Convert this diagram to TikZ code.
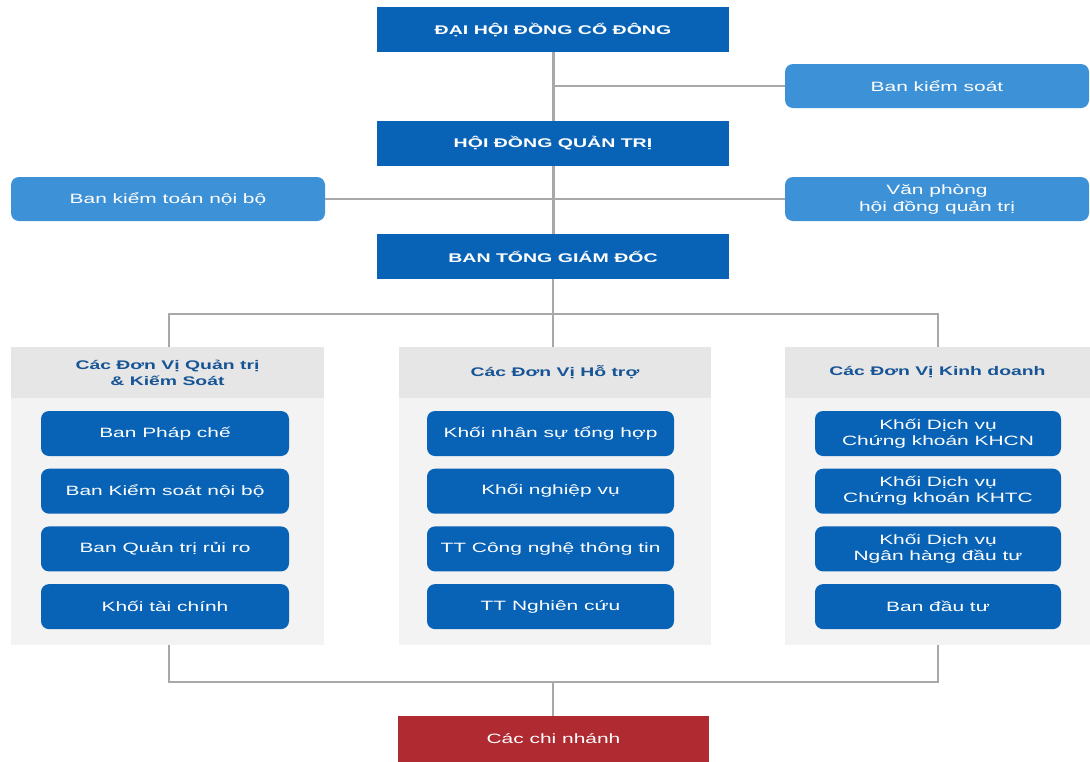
\documentclass[tikz,border=0pt]{standalone}
\usepackage{fontspec}
\newfontfamily\orgfont[FakeStretch=1.55]{Liberation Sans}
\definecolor{navy}{RGB}{8,99,182}
\definecolor{sky}{RGB}{61,145,214}
\definecolor{wire}{RGB}{168,168,168}
\definecolor{panelhead}{RGB}{230,230,230}
\definecolor{panelbody}{RGB}{243,243,243}
\definecolor{headtext}{RGB}{22,84,150}
\definecolor{branch}{RGB}{176,42,50}
\begin{document}
\begin{tikzpicture}[x=1pt,y=-1pt,
  every node/.style={font=\orgfont\fontsize{13.5}{16}\selectfont, inner sep=0pt, align=center},
  topbox/.style={fill=navy, text=white, font=\orgfont\bfseries\fontsize{12.6}{16}\selectfont,
    minimum width=352pt, minimum height=45pt},
  sidebox/.style={fill=sky, text=white, rounded corners=8pt, minimum height=44pt},
  unitbox/.style={fill=navy, text=white, rounded corners=8pt, minimum height=45pt},
  head/.style={fill=panelhead, text=headtext, font=\orgfont\bfseries\fontsize{12.5}{16}\selectfont,
    minimum height=51pt},
  body/.style={fill=panelbody, minimum height=247pt},
  thick wire/.style={draw=wire, line width=3pt},
  mid wire/.style={draw=wire, line width=2.4pt},
  thin wire/.style={draw=wire, line width=1.5pt}]
\clip (0,0) rectangle (1090,761);
\fill[white] (0,0) rectangle (1090,761);

% panels (drawn first so the boxes sit on top)
\node[body, minimum width=313pt] (pLbody) at (167.5,521.5) {};
\node[body, minimum width=312pt] (pMbody) at (555,521.5) {};
\node[body, minimum width=305pt] (pRbody) at (937.5,521.5) {};
\node[head, minimum width=313pt] (pL) at (167.5,372.5) {Các Đơn Vị Quản trị\\\& Kiếm Soát};
\node[head, minimum width=312pt] (pM) at (555,372.5) {Các Đơn Vị Hỗ trợ};
\node[head, minimum width=305pt] (pR) at (937.5,372.5) {Các Đơn Vị Kinh doanh};

% governance chain
\node[topbox] (dh) at (553,29.5) {ĐẠI HỘI ĐỒNG CỔ ĐÔNG};
\node[topbox] (hd) at (553,143.5) {HỘI ĐỒNG QUẢN TRỊ};
\node[topbox] (tgd) at (553,256.5) {BAN TỔNG GIÁM ĐỐC};

\node[sidebox, minimum width=304pt] (bks) at (937,86) {Ban kiểm soát};
\node[sidebox, minimum width=314pt] (ktnb) at (168,199) {Ban kiểm toán nội bộ};
\node[sidebox, minimum width=304pt] (vp) at (937,199) {Văn phòng\\[1pt]hội đồng quản trị};

% unit boxes
\foreach \n/\t [count=\i] in {L1/Ban Pháp chế, L2/Ban Kiểm soát nội bộ, L3/Ban Quản trị rủi ro, L4/Khối tài chính}{
  \pgfmathsetmacro\yy{433.5+57.7*(\i-1)}
  \node[unitbox, minimum width=248pt] (\n) at (165,\yy) {\t};}
\foreach \n/\t [count=\i] in {M1/Khối nhân sự tổng hợp, M2/Khối nghiệp vụ, M3/TT Công nghệ thông tin, M4/TT Nghiên cứu}{
  \pgfmathsetmacro\yy{433.5+57.7*(\i-1)}
  \node[unitbox, minimum width=247pt] (\n) at (550.5,\yy) {\t};}
\node[unitbox, minimum width=246pt] (R1) at (938,433.5) {Khối Dịch vụ\\Chứng khoán KHCN};
\node[unitbox, minimum width=246pt] (R2) at (938,491.2) {Khối Dịch vụ\\Chứng khoán KHTC};
\node[unitbox, minimum width=246pt] (R3) at (938,548.9) {Khối Dịch vụ\\Ngân hàng đầu tư};
\node[unitbox, minimum width=246pt] (R4) at (938,606.6) {Ban đầu tư};

\node[fill=branch, text=white, minimum width=311pt, minimum height=46pt] (cn) at (553.5,739) {Các chi nhánh};

% connectors
\coordinate (jbks) at (553,86);
\coordinate (jL) at (169,314);
\coordinate (jR) at (938,314);
\coordinate (bL) at (169,682);
\coordinate (bR) at (938,682);
\coordinate (bM) at (553,682);

\draw[thick wire] (dh.south) -- (hd.north);
\draw[thick wire] (hd.south) -- (tgd.north);
\draw[thin wire] (jbks) -- (bks.west);
\draw[thin wire] (ktnb.east) -- (vp.west);
\draw[mid wire] (tgd.south) -- (tgd.south |- pM.north);
\draw[mid wire] (pL.north -| jL) -- (jL) -- (jR) -- (pR.north -| jR);
\draw[mid wire] (pLbody.south -| bL) -- (bL) -- (bR) -- (pRbody.south -| bR);
\draw[mid wire] (bM) -- (bM |- cn.north);
\end{tikzpicture}
\end{document}
